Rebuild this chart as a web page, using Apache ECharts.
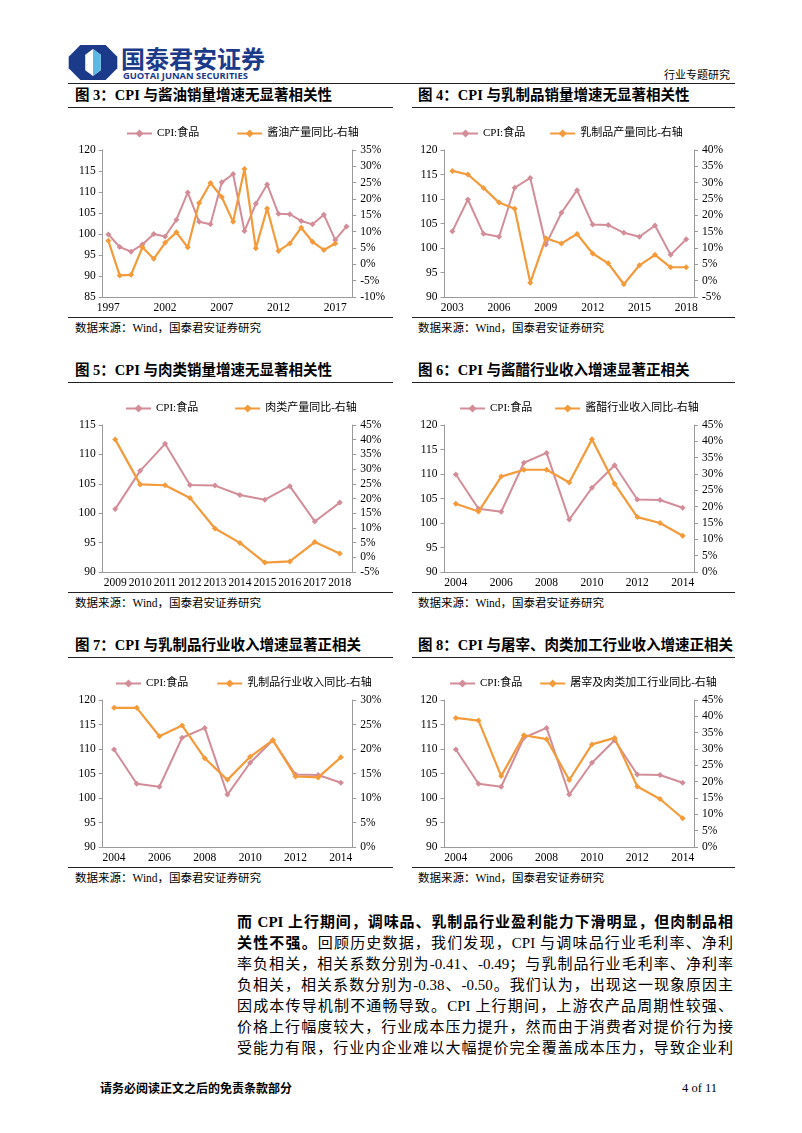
<!DOCTYPE html>
<html><head><meta charset="utf-8">
<script src="https://cdn.jsdelivr.net/npm/echarts@6/dist/echarts.min.js"></script>
<style>
html,body{margin:0;padding:0;background:#fff;}
#page{position:relative;width:802px;height:1133px;background:#fff;overflow:hidden;font-family:"Liberation Serif","Noto Sans CJK SC",serif;color:#000;}
.abs{position:absolute;white-space:nowrap;}
.hline{position:absolute;height:0;border-top:1.5px solid #222;}
.title{position:absolute;font-weight:bold;font-size:14.5px;line-height:18px;white-space:nowrap;}
.src{position:absolute;font-size:11.5px;line-height:14px;white-space:nowrap;}
.para{position:absolute;left:237px;width:496px;font-size:15px;line-height:20px;text-align:justify;text-align-last:justify;white-space:nowrap;}
.chart{position:absolute;width:345px;height:205px;}
</style></head>
<body><div id="page"></div>
<script>
// ---------------- data ----------------
const years1997_2018 = ['1997','1998','1999','2000','2001','2002','2003','2004','2005','2006','2007','2008','2009','2010','2011','2012','2013','2014','2015','2016','2017','2018'];
const cpiFood = [99.9,96.9,95.8,97.5,100.0,99.4,103.4,109.9,102.9,102.3,112.3,114.3,100.7,107.2,111.8,104.8,104.7,103.1,102.3,104.6,98.6,101.8];
const soySauceOutputYoY = [7.2,-3.4,-3.2,5.2,1.7,6.6,9.8,5.2,18.8,24.9,20.6,13.0,29.2,4.9,17.1,4.1,6.4,11.2,6.9,4.4,6.4,null];
const years2003_2018 = ['2003','2004','2005','2006','2007','2008','2009','2010','2011','2012','2013','2014','2015','2016','2017','2018'];
const dairyOutputYoY = [33.6,32.5,28.4,23.9,22.0,-0.6,13.0,11.4,14.3,8.3,5.3,-1.1,4.7,7.9,4.1,4.1];
const years2009_2018 = ['2009','2010','2011','2012','2013','2014','2015','2016','2017','2018'];
const meatOutputYoY = [40.1,24.8,24.5,20.2,9.8,4.9,-1.8,-1.4,5.2,1.3];
const years2004_2014 = ['2004','2005','2006','2007','2008','2009','2010','2011','2012','2013','2014'];
const sauceVinegarRevenueYoY = [20.9,18.5,29.2,31.3,31.3,27.4,40.6,27.0,16.8,15.0,11.1];
const dairyRevenueYoY = [28.4,28.4,22.6,24.8,18.1,13.7,18.4,21.8,14.4,14.2,18.3];
const slaughterMeatRevenueYoY = [39.5,38.7,21.7,34.2,33.0,20.5,31.4,33.4,18.5,14.7,8.8];

function cpiFor(years){ return years.map(y => cpiFood[years1997_2018.indexOf(y)]); }

const charts = [
  {col:0,row:0,title:'图 3：CPI 与酱油销量增速无显著相关性',cats:years1997_2018,other:soySauceOutputYoY,otherName:'酱油产量同比-右轴',lmin:85,lmax:120,rmin:-10,rmax:35,lab:4,legendLeft:61,gap:37},
  {col:1,row:0,title:'图 4：CPI 与乳制品销量增速无显著相关性',cats:years2003_2018,other:dairyOutputYoY,otherName:'乳制品产量同比-右轴',lmin:90,lmax:120,rmin:-5,rmax:40,lab:2,legendLeft:42,gap:24},
  {col:0,row:1,title:'图 5：CPI 与肉类销量增速无显著相关性',cats:years2009_2018,other:meatOutputYoY,otherName:'肉类产量同比-右轴',lmin:90,lmax:115,rmin:-5,rmax:45,lab:0,legendLeft:60,gap:36},
  {col:1,row:1,title:'图 6：CPI 与酱醋行业收入增速显著正相关',cats:years2004_2014,other:sauceVinegarRevenueYoY,otherName:'酱醋行业收入同比-右轴',lmin:90,lmax:120,rmin:0,rmax:45,lab:1,legendLeft:49,gap:22},
  {col:0,row:2,title:'图 7：CPI 与乳制品行业收入增速显著正相关',cats:years2004_2014,other:dairyRevenueYoY,otherName:'乳制品行业收入同比-右轴',lmin:90,lmax:120,rmin:0,rmax:30,lab:1,legendLeft:50,gap:28},
  {col:1,row:2,title:'图 8：CPI 与屠宰、肉类加工行业收入增速正相关',cats:years2004_2014,other:slaughterMeatRevenueYoY,otherName:'屠宰及肉类加工行业同比-右轴',lmin:90,lmax:120,rmin:0,rmax:45,lab:1,legendLeft:39,gap:17}
];

// ---------------- layout ----------------
const page = document.getElementById('page');
function add(html){ page.insertAdjacentHTML('beforeend', html); }

// header
add(`<svg class="abs" style="left:68px;top:45px" width="50" height="35" viewBox="0 0 50 36">
  <polygon points="12,0 38,0 50,12 50,24 38,36 12,36 0,24 0,12" fill="#1b3a8a"/>
  <polygon points="25,4 33,10 33,26 25,32 17,26 17,10" fill="#ffffff"/>
  <polygon points="25,4 33,10 33,26 25,32" fill="#5cb8e4"/>
</svg>`);
add(`<div class="abs" style="left:121px;top:45px;font-family:'Noto Sans CJK SC';font-weight:bold;font-size:24px;line-height:26px;color:#1b3a8a;">国泰君安证券</div>`);
add(`<div class="abs" style="left:123px;top:71px;font-family:'Open Sans','Liberation Sans';font-weight:bold;font-size:9.4px;line-height:10px;color:#1b3a8a;">GUOTAI JUNAN SECURITIES</div>`);
add(`<div class="abs" style="left:664px;top:67px;font-family:'Noto Sans CJK SC';font-size:11px;line-height:14px;">行业专题研究</div>`);
add(`<div class="hline" style="left:68px;width:667px;top:83px"></div>`);

const colX = [60,405];
const lineX = [[68,393],[412,735]];
const titleX = [75,418];
const gridLeft = [42.7,39.5];
const rowY = [80,355,630];

const LINE_CPI = '#D28D98';
const LINE_ORANGE = '#F39A3B';
const AX = '#9a9a9a';
const FONT = 'Liberation Serif, Noto Sans CJK SC, serif';

charts.forEach((c, i) => {
  const bx = colX[c.col], by = rowY[c.row];
  add(`<div class="title" style="left:${titleX[c.col]}px;top:${by+6}px">${c.title}</div>`);
  add(`<div class="hline" style="left:${lineX[c.col][0]}px;width:${lineX[c.col][1]-lineX[c.col][0]}px;top:${by+27}px"></div>`);
  add(`<div class="hline" style="left:${lineX[c.col][0]}px;width:${lineX[c.col][1]-lineX[c.col][0]}px;top:${by+237}px"></div>`);
  add(`<div class="src" style="left:${titleX[c.col]}px;top:${by+241}px">数据来源：Wind，国泰君安证券研究</div>`);
  add(`<div class="chart" id="c${i}" style="left:${bx}px;top:${by+35}px"></div>`);
  const ch = echarts.init(document.getElementById('c'+i), null, {renderer:'canvas'});
  ch.setOption({
    animation:false,
    textStyle:{fontFamily:FONT},
    legend:{top:8,left:c.legendLeft,width:340,itemGap:c.gap,itemWidth:25,itemHeight:10,
      textStyle:{fontFamily:FONT,fontSize:11,color:'#000'},
      data:['CPI:食品',c.otherName]},
    grid:{left:gridLeft[c.col],top:35,width:249.5,height:147},
    xAxis:{type:'category',data:c.cats,boundaryGap:true,
      axisLine:{onZero:false,lineStyle:{color:AX,width:1}},
      axisTick:{interval:c.lab,length:4,lineStyle:{color:AX}},
      axisLabel:{interval:c.lab,margin:5,fontSize:11.5,color:'#000',fontFamily:FONT}},
    yAxis:[
      {type:'value',position:'left',min:c.lmin,max:c.lmax,interval:5,
       axisLine:{show:true,lineStyle:{color:AX}},axisTick:{show:true,length:4,lineStyle:{color:AX}},
       splitLine:{show:false},axisLabel:{margin:7,fontSize:11.5,color:'#000',fontFamily:FONT}},
      {type:'value',position:'right',min:c.rmin,max:c.rmax,interval:5,
       axisLine:{show:true,lineStyle:{color:AX}},axisTick:{show:true,length:4,lineStyle:{color:AX}},
       splitLine:{show:false},axisLabel:{margin:8,fontSize:11.5,color:'#000',fontFamily:FONT,formatter:'{value}%'}}
    ],
    series:[
      {name:'CPI:食品',type:'line',yAxisIndex:0,data:cpiFor(c.cats),symbol:'diamond',symbolSize:6,
       lineStyle:{color:LINE_CPI,width:2},itemStyle:{color:LINE_CPI},z:2},
      {name:c.otherName,type:'line',yAxisIndex:1,data:c.other,symbol:'diamond',symbolSize:6,
       lineStyle:{color:LINE_ORANGE,width:2.2},itemStyle:{color:LINE_ORANGE},z:3}
    ]
  });
});

// paragraph
const paraLines = [
  '<b>而 CPI 上行期间，调味品、乳制品行业盈利能力下滑明显，但肉制品相</b>',
  '<b>关性不强。</b>回顾历史数据，我们发现，CPI 与调味品行业毛利率、净利',
  '率负相关，相关系数分别为-0.41、-0.49；与乳制品行业毛利率、净利率',
  '负相关，相关系数分别为-0.38、-0.50。我们认为，出现这一现象原因主',
  '因成本传导机制不通畅导致。CPI 上行期间，上游农产品周期性较强、',
  '价格上行幅度较大，行业成本压力提升，然而由于消费者对提价行为接',
  '受能力有限，行业内企业难以大幅提价完全覆盖成本压力，导致企业利'
];
paraLines.forEach((t, k) => {
  add(`<div class="para" style="top:${912 + k*21}px">${t}</div>`);
});

// footer
add(`<div class="abs" style="left:100px;top:1080px;font-family:'Noto Sans CJK SC';font-weight:bold;font-size:12px;line-height:16px;">请务必阅读正文之后的免责条款部分</div>`);
add(`<div class="abs" style="left:682px;top:1080px;font-size:12.5px;line-height:16px;">4 of 11</div>`);
</script>
</body></html>
